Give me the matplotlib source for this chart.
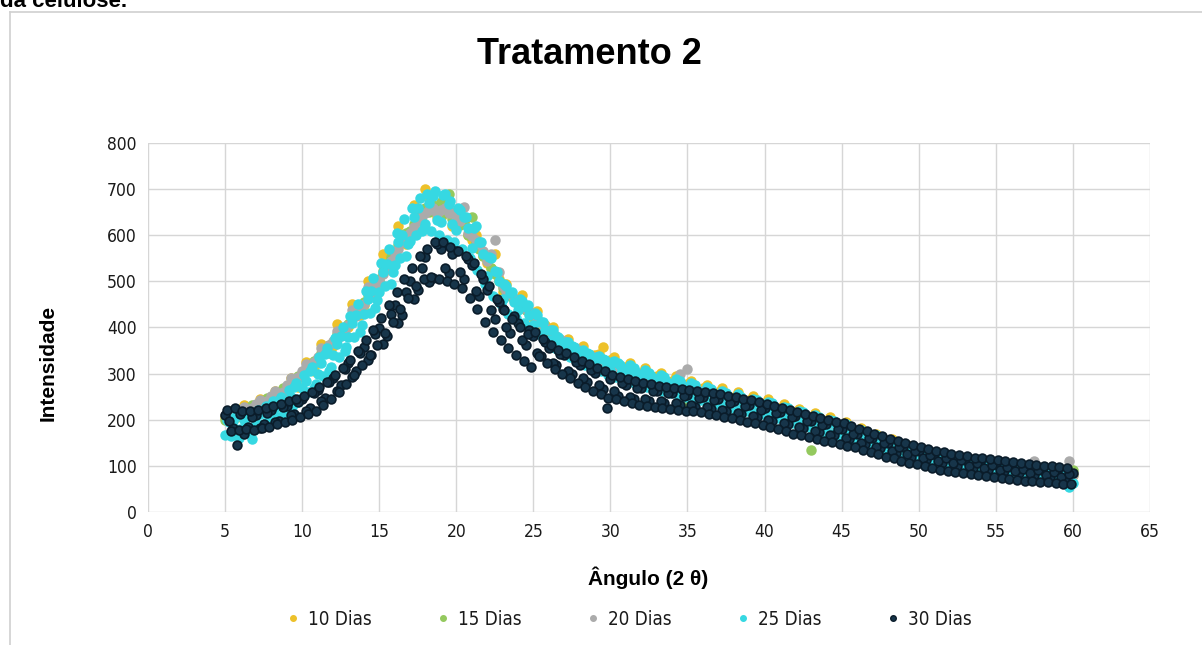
import numpy as np
import matplotlib
matplotlib.use('Agg')
import matplotlib.pyplot as plt
from matplotlib.lines import Line2D

# Angle grid (2 theta): readings every 0.5 degree and the in-between readings
angulo = np.arange(5, 60.01, 0.5)
angulo_q = np.arange(5.25, 59.76, 0.5)
# positions of the band edge readings (used for the two front series)
angulo_o = np.arange(5.125, 59.7, 0.5)
angulo_p = np.arange(5.375, 59.9, 0.5)

dias_10 = [205, 215, 210, 225, 222, 235, 240, 255, 262, 285, 292, 318, 322, 352, 360, 392, 400, 440, 448, 490,
           498, 545, 552, 600, 598, 650, 700, 655, 640, 650, 625, 630, 590, 575, 540, 560, 478, 470, 452, 440,
           420, 402, 390, 375, 368, 355, 350, 338, 340, 358, 330, 318, 315, 305, 302, 292, 295, 285, 285, 275,
           278, 268, 268, 256, 260, 248, 250, 238, 242, 230, 235, 222, 225, 212, 215, 202, 205, 192, 195, 182,
           185, 172, 172, 160, 162, 148, 150, 135, 138, 124, 128, 116, 120, 110, 114, 104, 110, 100, 106, 96,
           102, 92, 96, 86, 92, 82, 88, 78, 84, 74, 80]
dias_10_q = [220, 205, 232, 218, 245, 232, 262, 248, 290, 272, 325, 305, 365, 345, 408, 385, 452, 428, 500, 475,
             560, 525, 620, 580, 665, 630, 680, 640, 660, 620, 640, 600, 600, 555, 530, 505, 495, 460, 470, 435,
             435, 405, 400, 372, 375, 352, 360, 340, 342, 325, 335, 312, 322, 300, 312, 292, 302, 282, 295, 272,
             285, 265, 275, 255, 268, 248, 260, 240, 252, 232, 244, 222, 234, 212, 224, 202, 214, 192, 205, 182,
             195, 170, 182, 158, 170, 145, 158, 132, 145, 122, 134, 115, 126, 110, 120, 106, 115, 102, 110, 98,
             106, 94, 100, 88, 96, 84, 92, 80, 88, 78]

dias_15 = [200, 212, 215, 220, 228, 232, 246, 250, 270, 278, 300, 310, 330, 345, 368, 385, 408, 432, 455, 482,
           505, 538, 560, 592, 610, 640, 660, 665, 672, 690, 640, 628, 640, 570, 548, 515, 485, 468, 455, 438,
           425, 405, 392, 378, 365, 352, 345, 336, 330, 322, 318, 312, 305, 298, 294, 288, 282, 276, 272, 266,
           230, 258, 258, 250, 250, 244, 242, 236, 235, 228, 228, 220, 220, 212, 210, 200, 135, 192, 190, 182,
           180, 170, 168, 160, 156, 148, 144, 136, 133, 126, 122, 118, 116, 110, 110, 104, 105, 99, 100, 94,
           96, 90, 92, 86, 88, 82, 84, 78, 82, 76, 92]
dias_15_q = [208, 220, 218, 232, 235, 248, 255, 268, 280, 295, 312, 328, 345, 362, 385, 402, 425, 445, 470, 495,
             522, 552, 578, 605, 625, 650, 650, 660, 648, 635, 622, 600, 585, 555, 530, 500, 478, 462, 448, 432,
             415, 398, 385, 370, 358, 348, 340, 332, 325, 318, 315, 308, 300, 295, 290, 285, 278, 272, 268, 262,
             262, 255, 255, 248, 246, 240, 240, 232, 232, 224, 224, 216, 214, 206, 205, 196, 196, 186, 186, 176,
             174, 164, 162, 152, 150, 140, 140, 130, 128, 120, 120, 112, 112, 106, 107, 102, 102, 97, 98, 93,
             94, 88, 90, 84, 86, 80, 82, 78, 80, 75]

dias_20 = [210, 205, 222, 218, 235, 232, 252, 250, 275, 275, 305, 308, 335, 345, 370, 382, 405, 425, 450, 475,
           500, 530, 555, 585, 605, 630, 648, 660, 655, 648, 640, 662, 598, 580, 545, 590, 490, 472, 458, 440,
           428, 410, 395, 382, 370, 358, 350, 340, 335, 325, 322, 315, 310, 302, 298, 292, 288, 280, 278, 300,
           310, 265, 262, 255, 254, 246, 245, 238, 238, 230, 232, 224, 224, 215, 214, 205, 205, 195, 196, 185,
           186, 175, 175, 164, 164, 152, 152, 140, 140, 130, 130, 122, 122, 115, 116, 110, 110, 104, 105, 100,
           100, 95, 95, 90, 90, 110, 86, 82, 82, 78, 80]
dias_20_q = [215, 212, 228, 225, 242, 240, 262, 260, 290, 292, 320, 325, 355, 362, 392, 395, 438, 440, 488, 490,
             515, 545, 570, 598, 618, 642, 655, 645, 660, 650, 630, 605, 590, 565, 560, 520, 480, 465, 450, 435,
             418, 402, 388, 375, 365, 355, 345, 338, 330, 322, 318, 312, 305, 298, 292, 286, 282, 275, 272, 268,
             268, 262, 258, 252, 250, 244, 242, 236, 235, 228, 228, 220, 220, 210, 210, 200, 200, 190, 190, 180,
             180, 170, 170, 158, 158, 146, 146, 135, 135, 126, 126, 118, 118, 112, 112, 107, 107, 102, 102, 97,
             97, 92, 92, 88, 88, 84, 84, 80, 80, 110]

dias_25 = [168, 198, 180, 205, 192, 218, 212, 242, 238, 272, 268, 305, 300, 342, 340, 382, 380, 428, 430, 480,
           478, 538, 535, 600, 588, 660, 625, 685, 628, 668, 612, 640, 572, 585, 512, 522, 462, 475, 438, 445,
           405, 412, 372, 380, 348, 360, 332, 345, 318, 332, 308, 322, 298, 312, 288, 302, 280, 292, 270, 284,
           262, 275, 254, 266, 246, 258, 238, 250, 230, 243, 225, 236, 216, 226, 205, 216, 196, 206, 187, 198,
           178, 186, 165, 174, 153, 161, 141, 149, 130, 137, 118, 126, 110, 118, 104, 114, 99, 108, 94, 103,
           89, 98, 84, 93, 80, 88, 75, 84, 71, 80, 62]
dias_25_q = [195, 172, 200, 158, 212, 195, 225, 210, 250, 238, 285, 268, 322, 305, 365, 348, 410, 390, 462, 442,
             520, 495, 585, 555, 640, 610, 670, 632, 690, 625, 655, 615, 620, 560, 550, 500, 490, 455, 458, 428,
             428, 395, 395, 365, 368, 345, 352, 332, 338, 316, 328, 305, 318, 295, 308, 284, 298, 274, 288, 265,
             280, 258, 272, 250, 262, 242, 255, 234, 246, 226, 238, 218, 228, 208, 218, 198, 210, 190, 200, 180,
             190, 168, 178, 155, 166, 143, 154, 131, 142, 121, 130, 112, 122, 106, 115, 102, 110, 97, 105, 92,
             100, 88, 95, 83, 90, 78, 85, 74, 80, 55]
dias_25_alto = [200, 205, 210, 215, 222, 230, 240, 250, 265, 280, 298, 315, 335, 355, 378, 400, 425, 452, 480, 508,
                540, 570, 605, 635, 660, 680, 690, 695, 688, 675, 660, 640, 615, 585, 552, 520, 495, 478, 462, 448,
                432, 412, 395, 380, 368, 358, 350, 342, 336, 330, 325, 318, 312, 306, 300, 295, 290, 284, 280, 275,
                270, 265, 260, 256, 252, 248, 244, 240, 236, 232, 228, 224, 219, 214, 209, 204, 200, 196, 192, 188,
                182, 176, 170, 163, 157, 151, 145, 139, 134, 129, 124, 120, 117, 114, 112, 109, 107, 104, 102, 100,
                98, 95, 93, 91, 88, 86, 84, 82, 80, 78]
dias_25_baixo = [165, 160, 172, 178, 188, 195, 205, 215, 228, 245, 260, 278, 295, 315, 335, 358, 380, 405, 432, 460,
                 490, 520, 550, 580, 600, 615, 610, 600, 590, 585, 570, 550, 525, 495, 468, 450, 430, 420, 410, 400,
                 385, 370, 355, 345, 335, 325, 318, 310, 305, 298, 292, 288, 282, 278, 272, 268, 262, 258, 254, 250,
                 246, 242, 238, 234, 230, 226, 222, 218, 215, 212, 208, 204, 199, 194, 189, 184, 179, 174, 170, 165,
                 160, 155, 149, 143, 137, 131, 125, 119, 114, 109, 104, 100, 97, 95, 93, 90, 88, 86, 84, 82,
                 80, 78, 76, 74, 72, 70, 68, 66, 64, 60]

dias_30 = [210, 182, 212, 185, 210, 190, 222, 198, 230, 212, 246, 226, 265, 248, 290, 275, 322, 305, 358, 340,
           398, 382, 448, 428, 500, 482, 552, 508, 570, 518, 565, 505, 535, 468, 482, 418, 440, 388, 410, 362,
           382, 338, 355, 318, 340, 300, 318, 282, 302, 266, 288, 252, 276, 245, 268, 240, 262, 236, 258, 232,
           254, 228, 250, 224, 245, 218, 240, 212, 232, 205, 226, 198, 216, 190, 208, 182, 198, 174, 190, 166,
           180, 158, 170, 148, 160, 138, 150, 128, 140, 120, 132, 112, 125, 106, 118, 100, 113, 96, 108, 92,
           104, 88, 100, 84, 96, 80, 92, 76, 88, 72, 84]
dias_30_q = [198, 145, 170, 205, 182, 215, 195, 228, 210, 238, 220, 258, 240, 282, 262, 310, 292, 345, 330, 385,
             365, 430, 410, 478, 462, 528, 498, 580, 528, 560, 520, 548, 480, 505, 438, 455, 400, 425, 372, 395,
             345, 368, 322, 342, 305, 325, 290, 308, 275, 225, 262, 280, 250, 268, 245, 262, 240, 258, 236, 252,
             232, 248, 228, 242, 222, 236, 215, 230, 208, 222, 200, 214, 192, 206, 185, 198, 176, 188, 168, 180,
             160, 170, 150, 160, 142, 150, 133, 140, 125, 132, 118, 124, 111, 118, 106, 112, 100, 106, 96, 102,
             92, 98, 88, 94, 84, 90, 80, 86, 76, 82]
dias_30_alto = [222, 225, 218, 220, 222, 226, 230, 234, 240, 246, 252, 260, 270, 282, 296, 312, 330, 350, 372, 395,
                420, 448, 478, 505, 530, 555, 570, 585, 585, 575, 565, 555, 540, 515, 490, 462, 438, 418, 400, 385,
                390, 375, 362, 352, 344, 336, 328, 320, 312, 305, 298, 292, 288, 284, 280, 277, 274, 271, 268, 266,
                264, 262, 260, 257, 255, 252, 250, 246, 242, 238, 235, 230, 226, 222, 217, 212, 208, 204, 200, 196,
                192, 186, 181, 175, 170, 164, 159, 154, 150, 145, 141, 137, 133, 130, 126, 123, 121, 118, 116, 114,
                112, 110, 108, 106, 104, 102, 100, 99, 97, 96]
dias_30_baixo = [175, 178, 180, 178, 182, 185, 190, 195, 200, 205, 212, 220, 232, 245, 260, 278, 298, 318, 340, 362,
                 388, 412, 440, 465, 490, 505, 510, 505, 500, 495, 485, 465, 440, 412, 390, 372, 355, 340, 328, 315,
                 338, 322, 310, 300, 290, 280, 270, 262, 255, 248, 244, 240, 236, 233, 230, 228, 226, 224, 222, 220,
                 218, 216, 213, 210, 207, 204, 200, 196, 192, 188, 184, 180, 175, 170, 166, 162, 158, 155, 152, 148,
                 144, 140, 135, 130, 125, 120, 116, 111, 107, 103, 99, 95, 92, 89, 86, 84, 82, 80, 78, 76,
                 74, 72, 70, 68, 67, 65, 64, 62, 61, 60]

series = ['10 Dias', '15 Dias', '20 Dias', '25 Dias', '30 Dias']
valores = [[(angulo, dias_10), (angulo_q, dias_10_q)],
           [(angulo, dias_15), (angulo_q, dias_15_q)],
           [(angulo, dias_20), (angulo_q, dias_20_q)],
           [(angulo, dias_25), (angulo_q, dias_25_q), (angulo_o, dias_25_alto), (angulo_p, dias_25_baixo)],
           [(angulo, dias_30), (angulo_q, dias_30_q), (angulo_o, dias_30_alto), (angulo_p, dias_30_baixo)]]
cores = ['#EDC12A', '#94C95E', '#ABABAB', '#36D8E2', '#17354A']
bordas = ['#EDC12A', '#94C95E', '#ABABAB', '#36D8E2', '#0A1C2A']

fig = plt.figure(figsize=(12.02, 6.45), dpi=100)
ax = fig.add_axes([0.1231, 0.2062, 0.8336, 0.5721])

for nome, partes, c, b in zip(series, valores, cores, bordas):
    xs = np.concatenate([p[0] for p in partes])
    ys = np.concatenate([p[1] for p in partes])
    ax.scatter(xs, ys, s=40, color=c, edgecolors=b, linewidths=1.2, zorder=3, label=nome)

ax.set_xlim(0, 65)
ax.set_ylim(0, 800)
ax.set_xticks(range(0, 66, 5))
ax.set_yticks(range(0, 801, 100))
ax.grid(True, color='#D6D6D6', linewidth=1)
ax.set_axisbelow(True)
for s in ax.spines.values():
    s.set_visible(False)
ax.tick_params(length=0, labelsize=12.5, pad=8, colors='#1A1A1A')
for lab in ax.get_xticklabels() + ax.get_yticklabels():
    lab.set_fontstretch('condensed')

fig.text(0.49, 0.915, 'Tratamento 2', ha='center', va='center', fontsize=26, fontweight='bold',
         family=['Liberation Sans', 'DejaVu Sans'])
fig.text(0.539, 0.105, 'Ângulo (2 θ)', ha='center', va='center', fontsize=15, fontweight='bold',
         family=['Liberation Sans', 'DejaVu Sans'])
fig.text(0.04, 0.438, 'Intensidade', ha='center', va='center', rotation=90, fontsize=15, fontweight='bold',
         family=['Liberation Sans', 'DejaVu Sans'])

# text from the page above the chart, cut off by the crop
fig.text(0.0, 0.998, 'da celulose.', ha='left', va='center', fontsize=16, fontweight='bold',
         family=['Liberation Sans', 'DejaVu Sans'])

# chart frame
fig.add_artist(Line2D([0.0085, 0.0085], [0, 0.981], color='#D0D0D0', linewidth=1.2))
fig.add_artist(Line2D([0.0085, 1.0], [0.981, 0.981], color='#D0D0D0', linewidth=1.2))

handles = [Line2D([], [], marker='o', linestyle='', markersize=4, markerfacecolor=c, markeredgecolor=b)
           for c, b in zip(cores, bordas)]
leg = fig.legend(handles, series, loc='center', bbox_to_anchor=(0.522, 0.04), ncol=5, frameon=False,
                 fontsize=13.5, columnspacing=3.3, handletextpad=0.3, handlelength=1.0)
for t in leg.get_texts():
    t.set_fontstretch('condensed')
    t.set_color('#1A1A1A')

fig.savefig('out.png', dpi=100)
